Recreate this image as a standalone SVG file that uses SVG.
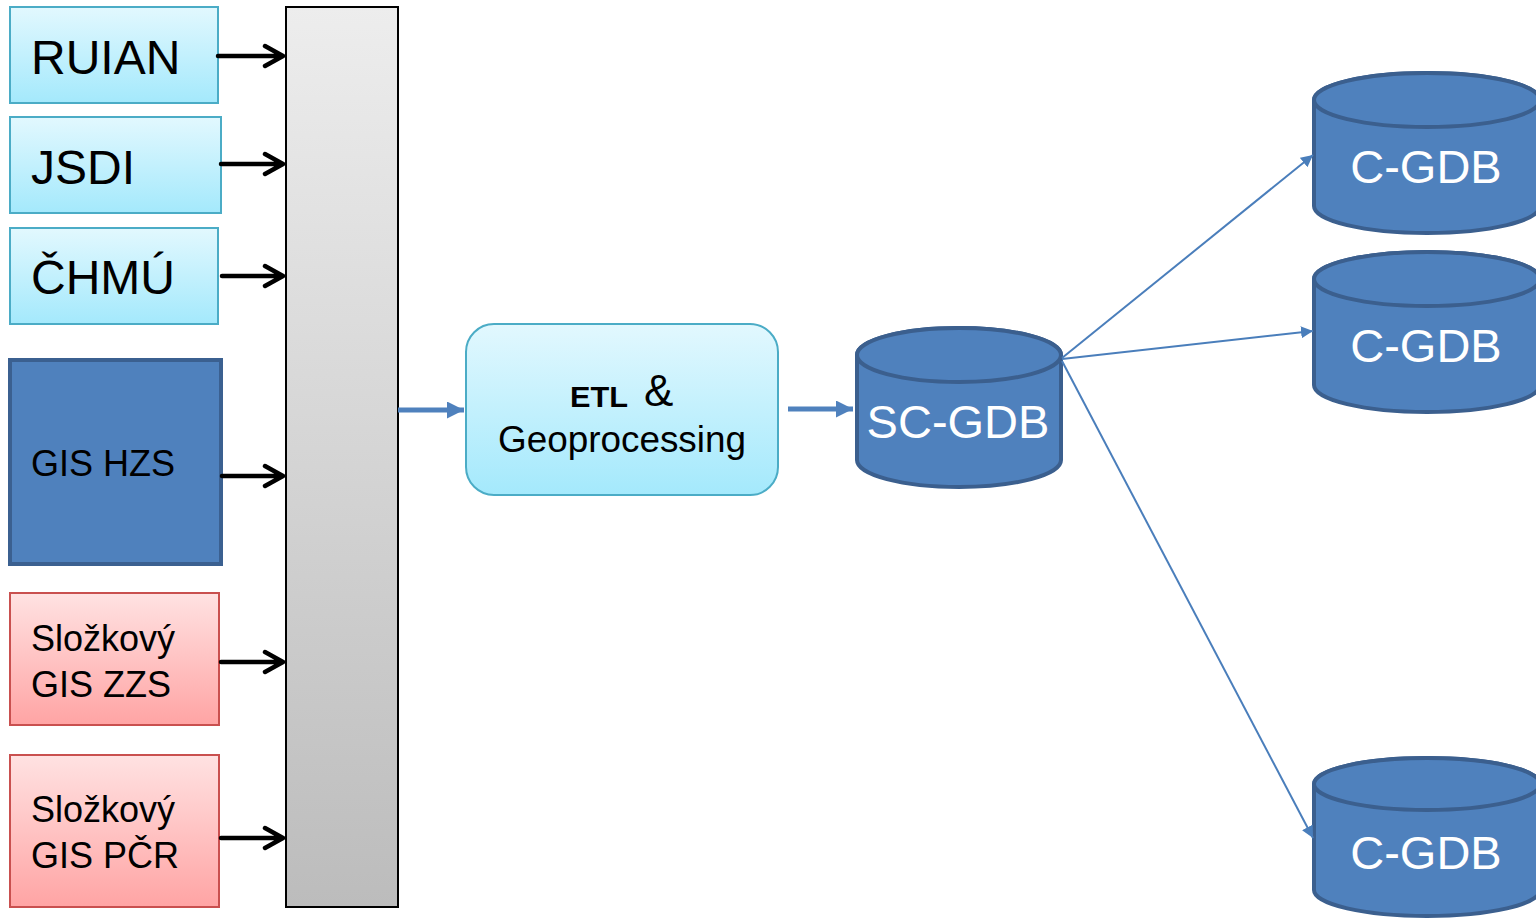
<svg xmlns="http://www.w3.org/2000/svg" width="1536" height="918" viewBox="0 0 1536 918">
<defs>
<linearGradient id="gCyan" x1="0" y1="0" x2="0" y2="1"><stop offset="0" stop-color="#e2f8fe"/><stop offset="1" stop-color="#a4e9fc"/></linearGradient>
<linearGradient id="gRed" x1="0" y1="0" x2="0" y2="1"><stop offset="0" stop-color="#ffe2e2"/><stop offset="1" stop-color="#ffa4a4"/></linearGradient>
<linearGradient id="gGray" x1="0" y1="0" x2="0" y2="1"><stop offset="0" stop-color="#ededed"/><stop offset="1" stop-color="#bcbcbc"/></linearGradient>
<marker id="mBlue" viewBox="0 0 10 10" refX="10" refY="5" markerWidth="3.4" markerHeight="3.4" orient="auto" markerUnits="strokeWidth"><path d="M0,0 L10,5 L0,10 Z" fill="#4f81bd"/></marker>
<marker id="mThin" viewBox="0 0 10 10" refX="10" refY="5" markerWidth="6" markerHeight="6" orient="auto" markerUnits="strokeWidth"><path d="M0,0 L10,5 L0,10 Z" fill="#4a7ebb"/></marker>
</defs>
<style>
text{font-family:"Liberation Sans",Arial,sans-serif}
.cy{fill:url(#gCyan);stroke:#4bacc6;stroke-width:2}
.rd{fill:url(#gRed);stroke:#c9504f;stroke-width:2}
.bl{fill:#4f81bd;stroke:#3b6090;stroke-width:4}
.db{fill:#4f81bd;stroke:#3b5f8e;stroke-width:4}
.lbl{fill:#000}
.wt{fill:#fff;text-anchor:middle}
.blk{fill:none;stroke:#000;stroke-width:4.5;stroke-linecap:round;stroke-linejoin:round}
.thick{stroke:#4f81bd;stroke-width:5;fill:none}
.thin{stroke:#4a7ebb;stroke-width:2;fill:none}
</style>
<g id="ruian"><rect class="cy" x="10" y="7" width="208" height="96"/><text class="lbl" x="31" y="74" font-size="48">RUIAN</text></g>
<g id="jsdi"><rect class="cy" x="10" y="117" width="211" height="96"/><text class="lbl" x="31" y="184" font-size="48">JSDI</text></g>
<g id="chmu"><rect class="cy" x="10" y="228" width="208" height="96"/><text class="lbl" x="31" y="294" font-size="48">ČHMÚ</text></g>
<g id="gishzs"><rect class="bl" x="10" y="360" width="211" height="204"/><text class="lbl" x="31" y="476" font-size="36">GIS HZS</text></g>
<g id="giszzs"><rect class="rd" x="10" y="593" width="209" height="132"/><text class="lbl" font-size="36"><tspan x="31" y="651">Složkový</tspan><tspan x="31" y="697">GIS ZZS</tspan></text></g>
<g id="gispcr"><rect class="rd" x="10" y="755" width="209" height="152"/><text class="lbl" font-size="36"><tspan x="31" y="822">Složkový</tspan><tspan x="31" y="868">GIS PČR</tspan></text></g>
<g id="bar"><rect x="286" y="7" width="112" height="900" fill="url(#gGray)" stroke="#000" stroke-width="2"/></g>
<g id="etl"><rect x="466" y="324" width="312" height="171" rx="28" ry="28" fill="url(#gCyan)" stroke="#4bacc6" stroke-width="2"/>
<text x="570" y="407" font-size="29" font-weight="bold" textLength="58" lengthAdjust="spacingAndGlyphs">ETL</text>
<text x="644" y="406" font-size="44">&amp;</text>
<text x="498" y="452" font-size="36" textLength="248" lengthAdjust="spacingAndGlyphs">Geoprocessing</text></g>
<g id="scgdb"><path class="db" d="M857,355 V460 A102,27 0 0 0 1061,460 V355 A102,27 0 0 0 857,355 Z"/><ellipse class="db" cx="959" cy="355" rx="102" ry="27"/><text class="wt" x="958" y="438" font-size="47">SC-GDB</text></g>
<g id="cgdb1"><path class="db" d="M1314,100 V206 A113,27 0 0 0 1540,206 V100 A113,27 0 0 0 1314,100 Z"/><ellipse class="db" cx="1427" cy="100" rx="113" ry="27"/><text class="wt" x="1426" y="183" font-size="47">C-GDB</text></g>
<g id="cgdb2"><path class="db" d="M1314,279 V385 A113,27 0 0 0 1540,385 V279 A113,27 0 0 0 1314,279 Z"/><ellipse class="db" cx="1427" cy="279" rx="113" ry="27"/><text class="wt" x="1426" y="362" font-size="47">C-GDB</text></g>
<g id="cgdb3"><path class="db" d="M1314,784 V890 A113,26 0 0 0 1540,890 V784 A113,26 0 0 0 1314,784 Z"/><ellipse class="db" cx="1427" cy="784" rx="113" ry="26"/><text class="wt" x="1426" y="869" font-size="47">C-GDB</text></g>
<g id="connectors">
<path class="blk" d="M218,56 H283 M265,46 L283,56 L265,66"/>
<path class="blk" d="M221,164 H283 M265,154 L283,164 L265,174"/>
<path class="blk" d="M222,276 H283 M265,266 L283,276 L265,286"/>
<path class="blk" d="M222,476 H283 M265,466 L283,476 L265,486"/>
<path class="blk" d="M221,662 H283 M265,652 L283,662 L265,672"/>
<path class="blk" d="M221,838 H283 M265,828 L283,838 L265,848"/>
<line class="thick" x1="398" y1="410" x2="464" y2="410" marker-end="url(#mBlue)"/>
<line class="thick" x1="788" y1="409" x2="853" y2="409" marker-end="url(#mBlue)"/>
<line class="thin" x1="1062" y1="358" x2="1313" y2="155" marker-end="url(#mThin)"/>
<line class="thin" x1="1062" y1="359" x2="1313" y2="331" marker-end="url(#mThin)"/>
<line class="thin" x1="1062" y1="361" x2="1313" y2="838" marker-end="url(#mThin)"/>
</g>
</svg>
